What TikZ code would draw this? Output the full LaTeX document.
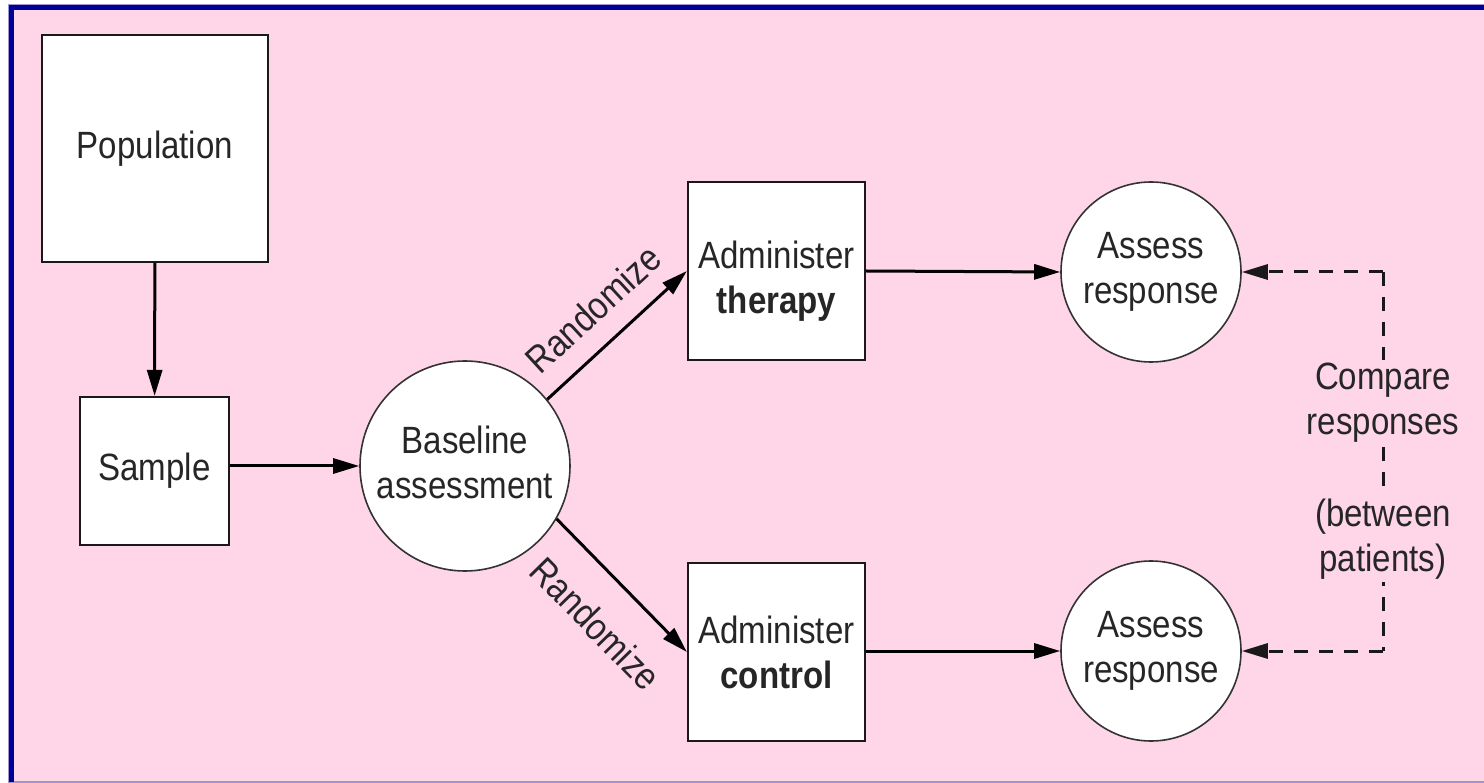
\documentclass[tikz,border=0pt]{standalone}
\usepackage{fontspec}
\setmainfont{Liberation Sans}[FakeStretch=0.87]
\usetikzlibrary{arrows.meta}
\definecolor{bgpink}{RGB}{255,213,232}
\definecolor{frameblue}{RGB}{0,0,153}
\definecolor{edgepurple}{RGB}{160,150,210}
\begin{document}
\begin{tikzpicture}[x=1pt,y=-1pt,
  every node/.style={font=\fontsize{38}{45}\selectfont, text=black!85, align=center, inner sep=0pt},
  boxnode/.style={draw=black!90, line width=2.2pt, fill=white},
  circnode/.style={circle, draw=black!80, line width=1.6pt, fill=white},
  arr/.style={draw=black, line width=3pt, -{Triangle[length=26pt,width=15pt]}},
  dasharr/.style={draw=black!90, line width=3pt, dash pattern=on 14pt off 11pt},
  lbl/.style={fill=bgpink, inner sep=3pt}
]
\useasboundingbox (0,0) rectangle (1484,783);
\fill[white] (0,0) rectangle (1484,783);
\filldraw[fill=bgpink, draw=edgepurple, line width=1.2pt] (8.5,4.5) rectangle (1490,782);
\fill[frameblue] (8.5,5) rectangle (1490,10);
\fill[frameblue] (8.5,5) rectangle (13.5,781.5);

\node[boxnode, minimum width=226pt, minimum height=227pt] (pop) at (155,148.5) {Population};
\node[boxnode, minimum width=149pt, minimum height=148pt] (samp) at (154.5,471) {Sample};
\node[circnode, minimum size=210pt] (base) at (465,466) {};
\node (baseT) at (465,462) {Baseline\\assessment};
\node[boxnode, minimum width=177pt, minimum height=178pt] (ther) at (776.5,271) {};
\node (therT) at (776.5,281) {Administer\\\textbf{therapy}};
\node[boxnode, minimum width=177pt, minimum height=178pt] (ctrl) at (776.5,652) {Administer\\\textbf{control}};
\node[circnode, minimum size=180pt] (r1) at (1151,272) {Assess\\response};
\node[circnode, minimum size=180pt] (r2) at (1151,651) {Assess\\response};

\draw[arr] (pop) -- (samp);
\draw[arr] (samp.east |- base.west) -- (base.west);
\draw[arr] (base.39) -- node[sloped, above=20pt, pos=0.5] {Randomize} (ther.west);
\draw[arr] (base.-30) -- node[sloped, below=30pt, pos=0.55] {Randomize} (ctrl.west);
\draw[arr] (ther.east) -- (r1.west);
\draw[arr] (ctrl.east |- r2.west) -- (r2.west);

\coordinate (c1) at (1383,272);
\coordinate (c2) at (1383,651);
\draw[dasharr] (c1) -- (c2);
\draw[dasharr, -{Triangle[length=26pt,width=15pt]}] (c1) -- (r1.east);
\draw[dasharr, -{Triangle[length=26pt,width=15pt]}] (c2) -- (r2.east);
\node[lbl] (cmp) at (1383,403) {Compare\\responses};
\node[lbl] (btw) at (1383,539) {(between\\patients)};
\end{tikzpicture}
\end{document}
